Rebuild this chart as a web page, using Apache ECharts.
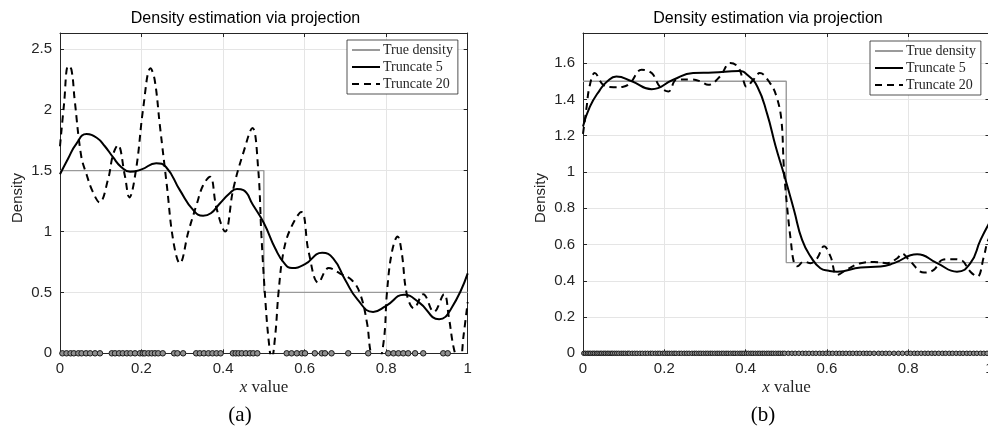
<!DOCTYPE html>
<html>
<head>
<meta charset="utf-8">
<script src="https://cdn.jsdelivr.net/npm/echarts@6/dist/echarts.min.js"></script>
<style>
html, body { margin: 0; padding: 0; background: #fff; }
#wrap { position: relative; width: 988px; height: 426px; overflow: hidden; }
#chartA { position: absolute; left: 0; top: 0; width: 494px; height: 426px; }
#chartB { position: absolute; left: 494px; top: 0; width: 494px; height: 426px; }
</style>
</head>
<body>
<div id="wrap"><div id="chartA"></div><div id="chartB"></div></div>
<script>
// ---- Panel (a): few samples ----
const trueDensityA = [[0, 1.5], [0.5, 1.5], [0.5, 0.5], [1, 0.5]];
const trunc5A = [
  [0, 1.47], [0.02, 1.60], [0.04, 1.72], [0.065, 1.80], [0.09, 1.77], [0.11, 1.70],
  [0.13, 1.61], [0.15, 1.53], [0.172, 1.49], [0.2, 1.51], [0.236, 1.56], [0.26, 1.53],
  [0.294, 1.34], [0.327, 1.175], [0.351, 1.13], [0.37, 1.15], [0.392, 1.23], [0.415, 1.31],
  [0.434, 1.35], [0.45, 1.34], [0.473, 1.22], [0.5, 1.07], [0.528, 0.86], [0.55, 0.74],
  [0.569, 0.70], [0.6, 0.73], [0.643, 0.825], [0.67, 0.78], [0.7, 0.60], [0.73, 0.44],
  [0.768, 0.34], [0.8, 0.39], [0.844, 0.48], [0.88, 0.42], [0.93, 0.28], [0.96, 0.37],
  [1.0, 0.656]
];
const trunc20A = [
  [0, 1.70], [0.01, 2.05], [0.02, 2.36], [0.028, 2.33], [0.036, 2.08], [0.052, 1.62],
  [0.065, 1.47], [0.08, 1.33], [0.097, 1.24], [0.118, 1.43], [0.13, 1.63], [0.142, 1.71], [0.159, 1.46],
  [0.17, 1.28], [0.187, 1.52], [0.204, 2.01], [0.222, 2.34], [0.232, 2.25], [0.245, 1.87],
  [0.262, 1.38], [0.278, 0.92], [0.294, 0.74], [0.315, 1.00], [0.335, 1.22], [0.351, 1.38],
  [0.368, 1.45], [0.384, 1.19], [0.405, 1.00], [0.425, 1.35], [0.45, 1.65], [0.472, 1.85],
  [0.486, 1.52], [0.494, 0.97], [0.504, 0.42], [0.512, 0.10], [0.519, -0.05], [0.528, 0.15],
  [0.536, 0.50], [0.548, 0.83], [0.565, 1.02], [0.592, 1.16], [0.61, 0.83], [0.634, 0.58],
  [0.659, 0.70], [0.687, 0.655], [0.716, 0.60], [0.736, 0.49], [0.753, 0.25], [0.765, -0.03],
  [0.78, -0.06], [0.794, 0.10], [0.802, 0.50], [0.814, 0.83], [0.828, 0.96], [0.838, 0.83],
  [0.851, 0.48], [0.868, 0.37], [0.891, 0.485], [0.917, 0.34], [0.942, 0.485], [0.954, 0.29],
  [0.966, 0.04], [0.98, -0.10], [0.99, 0.15], [1.0, 0.42]
];
const samplesA = [
  0.006, 0.016, 0.026, 0.034, 0.045, 0.053, 0.064, 0.074, 0.086, 0.098,
  0.127, 0.135, 0.145, 0.154, 0.164, 0.173, 0.184,
  0.196, 0.203, 0.208, 0.217, 0.225, 0.233, 0.241, 0.252,
  0.280, 0.288, 0.302,
  0.334, 0.343, 0.353, 0.364, 0.374, 0.384, 0.394,
  0.424, 0.431, 0.438, 0.446, 0.456, 0.466, 0.474, 0.484,
  0.556, 0.568, 0.581, 0.593, 0.601,
  0.625, 0.642, 0.650, 0.666,
  0.707, 0.756,
  0.805, 0.818, 0.830, 0.842, 0.854, 0.871, 0.891,
  0.940, 0.951
];

// ---- Panel (b): many samples ----
const trueDensityB = [[0, 1.5], [0.5, 1.5], [0.5, 0.5], [1, 0.5]];
const trunc5B = [
  [0, 1.25], [0.017, 1.36], [0.041, 1.45], [0.06, 1.50], [0.082, 1.526], [0.12, 1.50],
  [0.169, 1.456], [0.222, 1.508], [0.271, 1.545], [0.32, 1.548], [0.384, 1.556], [0.404, 1.536],
  [0.429, 1.47], [0.453, 1.32], [0.474, 1.14], [0.494, 0.99], [0.519, 0.79], [0.539, 0.625],
  [0.56, 0.533], [0.584, 0.469], [0.605, 0.455], [0.625, 0.45], [0.683, 0.473], [0.732, 0.478], [0.765, 0.497],
  [0.822, 0.546], [0.871, 0.497], [0.92, 0.45], [0.953, 0.497], [0.978, 0.625], [1.0, 0.72]
];
const trunc20B = [
  [0, 1.21], [0.009, 1.36], [0.016, 1.47], [0.029, 1.545], [0.05, 1.48], [0.075, 1.467],
  [0.099, 1.47], [0.116, 1.49], [0.144, 1.563], [0.169, 1.545], [0.189, 1.47], [0.21, 1.443],
  [0.23, 1.508], [0.263, 1.51], [0.288, 1.50], [0.308, 1.48], [0.337, 1.526], [0.362, 1.60],
  [0.381, 1.58], [0.394, 1.508], [0.402, 1.47], [0.419, 1.508], [0.435, 1.545], [0.46, 1.49],
  [0.476, 1.416], [0.488, 1.287], [0.494, 1.03], [0.502, 0.81], [0.511, 0.625], [0.519, 0.50],
  [0.527, 0.48], [0.543, 0.506], [0.56, 0.497], [0.576, 0.524], [0.593, 0.59], [0.609, 0.533],
  [0.625, 0.432], [0.65, 0.463], [0.683, 0.497], [0.716, 0.504], [0.748, 0.497], [0.773, 0.524],
  [0.785, 0.55], [0.802, 0.515], [0.839, 0.445], [0.863, 0.46], [0.884, 0.515], [0.904, 0.519],
  [0.929, 0.515], [0.953, 0.45], [0.97, 0.423], [0.986, 0.533], [0.994, 0.607], [1.0, 0.64]
];
const samplesB = [
  0.002, 0.006, 0.011, 0.015, 0.019, 0.024, 0.028, 0.033, 0.037, 0.042, 0.046, 0.051,
  0.055, 0.060, 0.064, 0.069, 0.073, 0.078, 0.083, 0.088, 0.094, 0.099, 0.104, 0.110,
  0.114, 0.121, 0.127, 0.133, 0.140, 0.146, 0.153, 0.159, 0.166, 0.171, 0.178, 0.184,
  0.189, 0.196, 0.201, 0.207, 0.212, 0.218, 0.224, 0.229, 0.236, 0.242, 0.249, 0.255,
  0.261, 0.268, 0.274, 0.279, 0.285, 0.290, 0.296, 0.302, 0.307, 0.313, 0.318, 0.324,
  0.330, 0.335, 0.341, 0.346, 0.352, 0.357, 0.363, 0.369, 0.374, 0.380, 0.386, 0.391,
  0.396, 0.402, 0.407, 0.413, 0.418, 0.424, 0.430, 0.435, 0.441, 0.446, 0.452, 0.457,
  0.463, 0.468, 0.474, 0.480, 0.485, 0.491, 0.496,
  0.505, 0.514, 0.522, 0.531, 0.540, 0.548, 0.556, 0.565, 0.573, 0.582, 0.590, 0.598,
  0.606, 0.614, 0.623, 0.631, 0.639, 0.647, 0.656, 0.664, 0.673, 0.681, 0.690, 0.698,
  0.706, 0.716, 0.727, 0.736, 0.745, 0.754, 0.765, 0.776, 0.786, 0.797, 0.806, 0.815,
  0.823, 0.832, 0.841, 0.849, 0.858, 0.866, 0.875, 0.884, 0.892, 0.901, 0.909, 0.918,
  0.927, 0.935, 0.944, 0.952, 0.961, 0.969, 0.978, 0.986, 0.994
];

const seriesNames = ['True density', 'Truncate 5', 'Truncate 20'];
const titleText = 'Density estimation via projection';
const yAxisTitle = 'Density';

const AXIS = '#262626';
const GRID = '#e5e5e5';
const SANS = '"Liberation Sans", Arial, Helvetica, sans-serif';
const SERIF = '"Liberation Serif", "Times New Roman", serif';

function boxAxis(pos, max, interval, labelled, hideMax) {
  return {
    type: 'value', position: pos, min: 0, max: max, interval: interval,
    axisLine: { show: true, onZero: false, lineStyle: { color: AXIS, width: 1 } },
    axisTick: { show: true, inside: true, length: 4, lineStyle: { color: AXIS, width: 1 } },
    axisLabel: {
      show: labelled, color: AXIS, fontSize: 15, fontFamily: SANS, margin: 8,
      showMaxLabel: hideMax ? false : null
    },
    splitLine: { show: labelled, lineStyle: { color: GRID, width: 1 } }
  };
}

function buildOption(cfg) {
  return {
    animation: false,
    backgroundColor: '#fff',
    grid: {
      left: cfg.gridLeft, top: 33, width: cfg.gridWidth, height: 320.3,
      containLabel: false, outerBoundsMode: 'none'
    },
    xAxis: [boxAxis('bottom', 1, 0.2, true, false), boxAxis('top', 1, 0.2, false, false)],
    yAxis: [boxAxis('left', cfg.yMax, cfg.yStep, true, true), boxAxis('right', cfg.yMax, cfg.yStep, false, true)],
    legend: {
      orient: 'vertical', left: cfg.legendLeft, top: cfg.legendTop,
      data: seriesNames, selectedMode: false,
      itemWidth: 28, itemHeight: 14, itemGap: 3,
      padding: [3, 5, 3, 4],
      // line samples only, no marker in the key
      itemStyle: { opacity: 0, borderWidth: 0 },
      borderColor: AXIS, borderWidth: 0.8, backgroundColor: '#fff', borderRadius: 0,
      textStyle: { fontFamily: SERIF, fontSize: 14, color: AXIS, padding: [0, 0, 0, -2] }
    },
    series: [
      {
        name: seriesNames[0], type: 'line', data: cfg.truth, symbol: 'none', z: 2,
        lineStyle: { color: '#9a9a9a', width: 1.4 }, itemStyle: { color: '#9a9a9a' }
      },
      {
        name: seriesNames[1], type: 'line', data: cfg.t5, symbol: 'none', smooth: 0.5, z: 3,
        lineStyle: { color: '#000', width: 2 }, itemStyle: { color: '#000' }
      },
      {
        name: seriesNames[2], type: 'line', data: cfg.t20, symbol: 'none', smooth: 0.4, z: 3,
        lineStyle: { color: '#000', width: 2, type: [7, 5] }, itemStyle: { color: '#000' }
      },
      {
        name: 'samples', type: 'scatter', clip: false, z: 4,
        data: cfg.samples.map(function (v) { return [v, 0]; }),
        symbol: 'circle', symbolSize: cfg.dotSize,
        itemStyle: { color: '#8f8f8f', borderColor: '#1a1a1a', borderWidth: 1, opacity: 1 }
      }
    ],
    graphic: [
      { type: 'text', x: cfg.titleX, y: 19, style: { text: titleText, font: '16px ' + SANS, fill: '#000', align: 'center', verticalAlign: 'middle' } },
      { type: 'text', x: cfg.yNameX, y: 198, rotation: Math.PI / 2, style: { text: yAxisTitle, font: '15px ' + SANS, fill: AXIS, align: 'center', verticalAlign: 'middle' } },
      { type: 'text', x: cfg.xNameX, y: 388, style: {
          text: '{i|x} value', font: '17px ' + SERIF, fill: AXIS, align: 'center', verticalAlign: 'middle',
          rich: { i: { fontStyle: 'italic', fontFamily: SERIF, fontSize: 17, fill: AXIS } } } },
      { type: 'text', x: cfg.tagX, y: 415, style: { text: cfg.tag, font: '21px ' + SERIF, fill: '#000', align: 'center', verticalAlign: 'middle' } }
    ]
  };
}

const chartA = echarts.init(document.getElementById('chartA'), null, { renderer: 'canvas' });
chartA.setOption(buildOption({
  gridLeft: 60, gridWidth: 407.7, yMax: 2.63, yStep: 0.5,
  legendLeft: 347, legendTop: 40,
  truth: trueDensityA, t5: trunc5A, t20: trunc20A, samples: samplesA, dotSize: 5.5,
  titleX: 245.5, yNameX: 18, xNameX: 264, tagX: 240, tag: '(a)'
}));

const chartB = echarts.init(document.getElementById('chartB'), null, { renderer: 'canvas' });
chartB.setOption(buildOption({
  gridLeft: 89, gridWidth: 406.5, yMax: 1.766, yStep: 0.2,
  legendLeft: 376, legendTop: 41,
  truth: trueDensityB, t5: trunc5B, t20: trunc20B, samples: samplesB, dotSize: 4.5,
  titleX: 274, yNameX: 46.7, xNameX: 292.5, tagX: 269, tag: '(b)'
}));
</script>
</body>
</html>
